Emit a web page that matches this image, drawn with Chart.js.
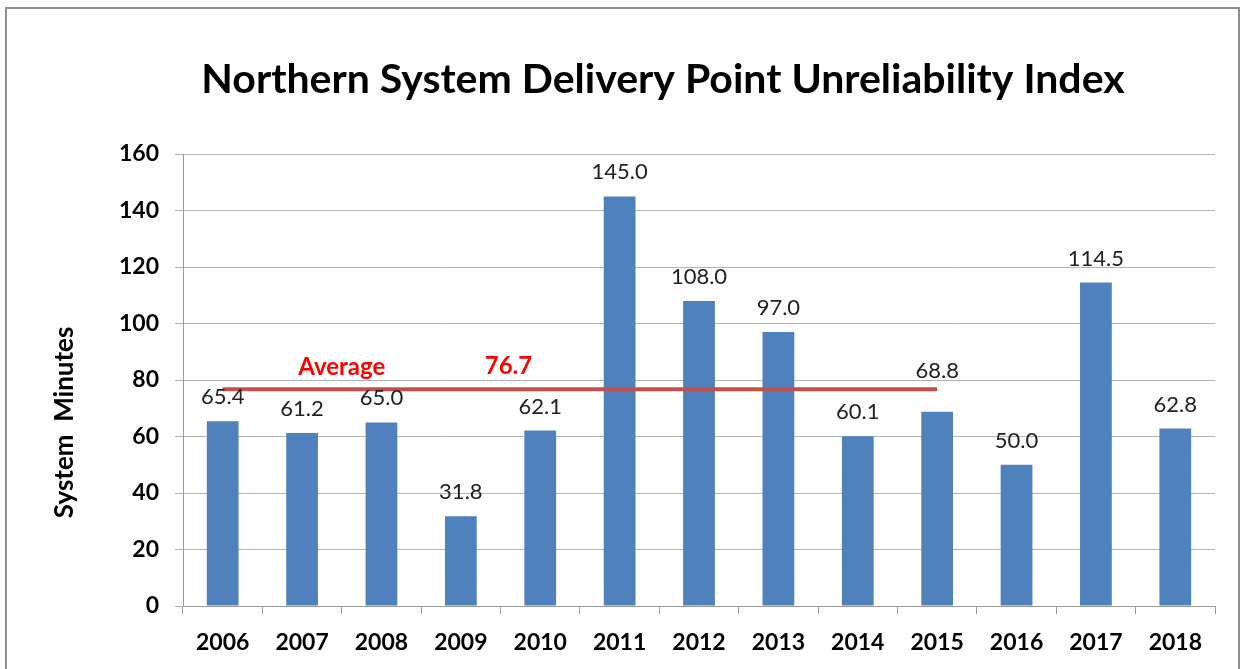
<!DOCTYPE html>
<html>
<head>
<meta charset="utf-8">
<script src="https://cdn.jsdelivr.net/npm/chart.js@4/dist/chart.umd.min.js"></script>
<style>
  html, body { margin: 0; padding: 0; background: #fff; }
  body { width: 1246px; height: 669px; position: relative; overflow: hidden; }
  #frame { position: absolute; left: 5px; top: 7px; width: 1235px; height: 700px; border: 2px solid #8e8e8e; box-sizing: border-box; }
  #wrap { position: absolute; left: 0; top: 0; width: 1246px; height: 669px; }
</style>
</head>
<body>
<div id="frame"></div>
<div id="wrap"><canvas id="c" width="1246" height="669"></canvas></div>
<script>
const categories = ['2006','2007','2008','2009','2010','2011','2012','2013','2014','2015','2016','2017','2018'];
const values = [65.4, 61.2, 65.0, 31.8, 62.1, 145.0, 108.0, 97.0, 60.1, 68.8, 50.0, 114.5, 62.8];
const averageLine = [76.7, 76.7, 76.7, 76.7, 76.7, 76.7, 76.7, 76.7, 76.7, 76.7, null, null, null];
const averageValue = 76.7;
const yTicks = [0, 20, 40, 60, 80, 100, 120, 140, 160];
const titleText = 'Northern System Delivery Point Unreliability Index';
const yTitleText = 'System  Minutes';

const FONT = 'Lato, "Open Sans", "Liberation Sans", sans-serif';

const overlay = {
  id: 'overlay',
  afterDatasetsDraw(chart) {
    const ctx = chart.ctx;
    const xs = chart.scales.x, ys = chart.scales.y;
    ctx.save();
    // data labels
    ctx.fillStyle = '#222';
    ctx.font = '22px ' + FONT;
    ctx.textAlign = 'center';
    ctx.textBaseline = 'middle';
    const meta = chart.getDatasetMeta(0);
    meta.data.forEach((bar, i) => {
      const lift = (i === 9) ? 41 : 24;
      ctx.fillText(values[i].toFixed(1), bar.x, bar.y - lift);
    });
    // average labels
    ctx.fillStyle = '#ff0000';
    ctx.font = 'bold 24px ' + FONT;
    const xa = (xs.getPixelForValue(1) + xs.getPixelForValue(2)) / 2;
    ctx.fillText('Average', xa, ys.getPixelForValue(84.5));
    const x3 = xs.getPixelForValue(3), x4 = xs.getPixelForValue(4);
    ctx.fillText(averageValue.toFixed(1), x3 + 0.6 * (x4 - x3), ys.getPixelForValue(84.7));
    // title
    ctx.fillStyle = '#000';
    ctx.font = 'bold 41px ' + FONT;
    ctx.fillText(titleText, 663, 80);
    // y title
    ctx.translate(65, ys.getPixelForValue(65));
    ctx.rotate(-Math.PI / 2);
    ctx.font = 'bold 26px ' + FONT;
    ctx.fillText(yTitleText, 0, 0);
    ctx.restore();
  }
};

new Chart(document.getElementById('c'), {
  type: 'bar',
  data: {
    labels: categories,
    datasets: [
      {
        type: 'bar',
        data: values,
        backgroundColor: '#4f81bd',
        borderWidth: 0,
        barPercentage: 0.40,
        categoryPercentage: 1.0,
        order: 2
      },
      {
        type: 'line',
        data: averageLine,
        borderColor: '#c0504d',
        borderWidth: 4,
        pointRadius: 0,
        fill: false,
        spanGaps: false,
        order: 1
      }
    ]
  },
  plugins: [overlay],
  options: {
    responsive: false,
    animation: false,
    devicePixelRatio: 1,
    layout: { padding: { top: 154, right: 31, left: 0, bottom: 0 } },
    plugins: { legend: { display: false }, tooltip: { enabled: false }, title: { display: false } },
    scales: {
      x: {
        offset: true,
        grid: { offset: true, drawOnChartArea: false, drawTicks: true, tickLength: 8, color: '#9a9a9a', lineWidth: 1 },
        border: { color: '#9a9a9a', width: 1 },
        ticks: { color: '#000', font: { family: FONT, size: 23, weight: 'bold' }, padding: 15, maxRotation: 0, autoSkip: false },
        afterFit(s) { s.height = 63; }
      },
      y: {
        min: 0, max: 160,
        afterBuildTicks(s) { s.ticks = yTicks.map(v => ({ value: v })); },
        grid: { color: '#b4b4b4', lineWidth: 1, drawTicks: true, tickLength: 8 },
        border: { color: '#9a9a9a', width: 1 },
        ticks: { color: '#000', font: { family: FONT, size: 23, weight: 'bold' }, padding: 16 },
        afterFit(s) { s.width = 183; }
      }
    }
  }
});
</script>
</body>
</html>
